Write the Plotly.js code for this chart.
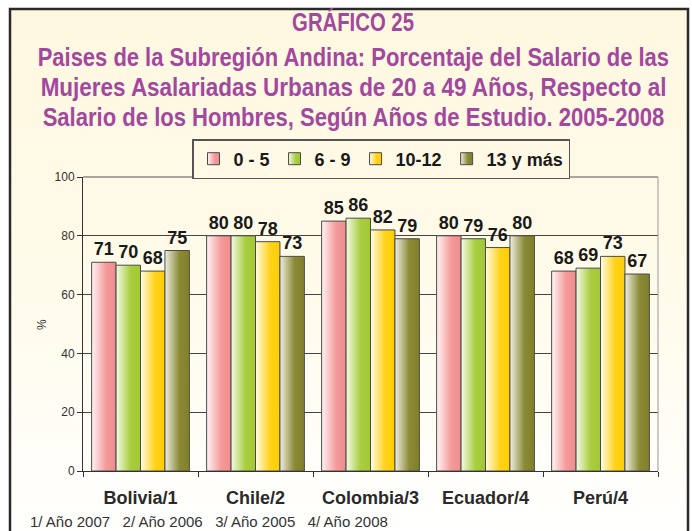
<!DOCTYPE html>
<html>
<head>
<meta charset="utf-8">
<script src="https://cdn.plot.ly/plotly-3.0.1.min.js"></script>
<style>html,body{margin:0;padding:0;background:#fff;}</style>
</head>
<body>
<div id="chart" style="width:692px;height:531px;"></div>
<script>
const countries = ["Bolivia/1", "Chile/2", "Colombia/3", "Ecuador/4", "Perú/4"];
const seriesNames = ["0 - 5", "6 - 9", "10-12", "13 y más"];
const s0to5 = [71, 80, 85, 80, 68];
const s6to9 = [70, 80, 86, 79, 69];
const s10to12 = [68, 78, 82, 76, 73];
const s13mas = [75, 73, 79, 80, 67];
const yTicks = [0, 20, 40, 60, 80, 100];
const titleLines = [
  "GRÁFICO 25",
  "Paises de la Subregión Andina: Porcentaje del Salario de las",
  "Mujeres Asalariadas Urbanas de 20 a 49 Años, Respecto al",
  "Salario de los Hombres, Según Años de Estudio. 2005-2008"
];
const footnote = "1/ Año 2007   2/ Año 2006   3/ Año 2005   4/ Año 2008";

const seriesValues = [s0to5, s6to9, s10to12, s13mas];
const solidColors = ["#F4A5A5", "#BBD870", "#FFDD55", "#A6A56A"];
const gradStops = [
  ["#FFF4F4", "#F49A9A", "#F08C8C"],
  ["#F4FAE8", "#A8CD3E", "#A2C836"],
  ["#FFFCE8", "#FFD21A", "#FFCE00"],
  ["#EEEEE2", "#8A8935", "#828128"]
];

const SANS = "Liberation Sans, Arial, sans-serif";

// plot area in pixels: left 83, right 658, top 177, bottom 471
const L = 83, R = 658, T = 177, B = 471;
const px = x => (x - L) / (R - L);
const py = y => (B - y) / (B - T);

const traces = seriesValues.map((vals, i) => ({
  type: "bar",
  name: seriesNames[i],
  x: countries,
  y: vals,
  text: vals.map(String),
  textposition: "outside",
  cliponaxis: false,
  textfont: {family: SANS, size: 18, color: "#1a1a1a", weight: "bold"},
  marker: {color: solidColors[i], line: {color: "#4a4a4a", width: 1}},
  hoverinfo: "skip"
}));

const titleY = [22, 57, 87, 117];
const titleW = [122, 632, 626, 622];
const annotations = titleLines.map((t, i) => ({
  text: t,
  xref: "paper", yref: "paper",
  x: px(353), y: py(titleY[i]),
  xanchor: "center", yanchor: "middle",
  showarrow: false,
  font: {family: SANS, size: 25, color: "#A2489E", weight: "bold"}
}));
annotations.push({
  text: "%", xref: "paper", yref: "paper",
  x: px(42), y: py(325), xanchor: "center", yanchor: "middle",
  textangle: -90, showarrow: false,
  font: {family: SANS, size: 12, color: "#333"}
});
annotations.push({
  text: footnote, xref: "paper", yref: "paper",
  x: px(28), y: py(521), xanchor: "left", yanchor: "middle",
  showarrow: false,
  font: {family: SANS, size: 15, color: "#333"}
});

const shapes = [
  // outer cream frame
  {type: "rect", xref: "paper", yref: "paper", layer: "below",
   x0: px(10), x1: px(688), y0: py(545), y1: py(9),
   fillcolor: "#FFFAE6", line: {color: "#2a2a2a", width: 2.5}},
  // top border of plot area
  {type: "line", xref: "paper", yref: "paper", x0: 0, x1: 1, y0: 1, y1: 1,
   line: {color: "#555", width: 1}},
  // right border of plot area
  {type: "line", xref: "paper", yref: "paper", x0: 1, x1: 1, y0: 0, y1: 1,
   line: {color: "#999", width: 1}}
];

const layout = {
  width: 692, height: 531,
  margin: {l: L, r: 692 - R, t: T, b: 531 - B, pad: 0},
  paper_bgcolor: "#FFFFFF",
  plot_bgcolor: "#FFFDF0",
  barmode: "group",
  bargap: 0.15,
  bargroupgap: 0,
  showlegend: true,
  legend: {
    orientation: "h",
    x: px(381), xanchor: "center",
    y: py(139), yanchor: "top",
    bgcolor: "#FFF9E6",
    bordercolor: "#555", borderwidth: 1.5,
    font: {family: SANS, size: 18, color: "#1a1a1a", weight: "bold"},
    itemwidth: 30,
    traceorder: "normal"
  },
  xaxis: {
    type: "category",
    showline: true, linecolor: "#333", linewidth: 1,
    ticks: "outside", tickson: "boundaries", ticklen: 5, tickcolor: "#333",
    ticklabelstandoff: 10,
    tickfont: {family: SANS, size: 18, color: "#2a2a2a", weight: "bold"},
    showgrid: false, zeroline: false, fixedrange: true
  },
  yaxis: {
    range: [0, 100],
    tickvals: yTicks,
    showline: true, linecolor: "#333", linewidth: 1,
    ticks: "outside", ticklen: 5, tickcolor: "#333",
    tickfont: {family: SANS, size: 12, color: "#333"},
    showgrid: true, gridcolor: "#444", gridwidth: 1,
    zeroline: false, fixedrange: true
  },
  annotations: annotations,
  shapes: shapes
};

Plotly.newPlot("chart", traces, layout, {displayModeBar: false, staticPlot: true}).then(gd => {
  const svg = gd.querySelector("svg.main-svg");
  const defs = svg.querySelector("defs");
  const NS = "http://www.w3.org/2000/svg";
  function addGrad(id, vertical, stops) {
    const g = document.createElementNS(NS, "linearGradient");
    g.setAttribute("id", id);
    g.setAttribute("x1", "0"); g.setAttribute("y1", "0");
    g.setAttribute("x2", vertical ? "0" : "1"); g.setAttribute("y2", vertical ? "1" : "0");
    stops.forEach(([o, c]) => {
      const s = document.createElementNS(NS, "stop");
      s.setAttribute("offset", o);
      s.setAttribute("stop-color", c);
      g.appendChild(s);
    });
    defs.appendChild(g);
  }
  gradStops.forEach((st, i) => addGrad("barGrad" + i, false, [[0, st[0]], [0.6, st[1]], [1, st[2]]]));
  addGrad("frameGrad", true, [[0, "#FFF8E0"], [0.5, "#FFFBEA"], [1, "#FFFFFF"]]);
  addGrad("plotGrad", true, [[0, "#FFFBE8"], [1, "#FFFFFF"]]);

  gd.querySelectorAll(".barlayer .trace").forEach((tr, i) => {
    tr.querySelectorAll(".point path").forEach(p => { p.style.fill = "url(#barGrad" + i + ")"; });
  });
  gd.querySelectorAll(".legend .traces").forEach((tr, i) => {
    tr.querySelectorAll(".legendpoints path").forEach(p => { p.style.fill = "url(#barGrad" + i + ")"; });
  });
  const frame = gd.querySelector(".layer-below .shapelayer path");
  if (frame) frame.style.fill = "url(#frameGrad)";
  const bg = gd.querySelector(".bglayer rect.bg");
  if (bg) bg.style.fill = "url(#plotGrad)";

  // condensed title lines: squeeze each line horizontally about its centre
  const annTexts = gd.querySelectorAll(".annotation .annotation-text");
  titleW.forEach((w, i) => {
    const t = annTexts[i];
    if (!t) return;
    const bb = t.getBBox();
    const s = w / bb.width;
    const cx = bb.x + bb.width / 2;
    const prev = t.getAttribute("transform") || "";
    t.setAttribute("transform", prev + " translate(" + cx + ",0) scale(" + s + ",1) translate(" + (-cx) + ",0)");
  });
});
</script>
</body>
</html>
